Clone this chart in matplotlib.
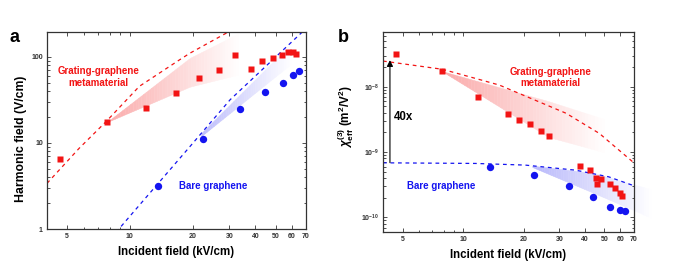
import numpy as np
import matplotlib
matplotlib.use("Agg")
import matplotlib.pyplot as plt
from matplotlib.ticker import FixedLocator, NullFormatter, LogLocator

plt.rcParams['font.family'] = ['Liberation Sans', 'DejaVu Sans']
plt.rcParams['font.weight'] = 'bold'
plt.rcParams['mathtext.fontset'] = 'custom'
plt.rcParams['mathtext.rm'] = 'Liberation Sans:bold'
plt.rcParams['mathtext.it'] = 'Liberation Sans:italic'
plt.rcParams['mathtext.bf'] = 'Liberation Sans:bold'

# ---- panel a : harmonic field
a_meta_x = [4.6, 7.74, 11.9, 16.6, 21.5, 26.7, 32.1, 38.1, 42.9, 48.6, 53.6, 57.5, 60.4, 62.4]
a_meta_y = [6.56, 17.4, 25.4, 37.7, 56.9, 69.9, 105, 72.4, 89, 97.3, 106, 113, 113, 109]
a_bare_x = [13.6, 22.5, 33.6, 44.7, 54.0, 60.8, 64.6]
a_bare_y = [3.15, 11.0, 24.5, 39.4, 49.3, 61.1, 68.6]
a_meta_fit_x = [4.0, 5.71, 7.69, 11.1, 17.4, 19.4, 29.2, 31.0]
a_meta_fit_y = [3.39, 8.67, 17.7, 45.4, 93, 110, 190, 206]
a_bare_fit_x = [8.6, 8.85, 11.1, 19.4, 30.3, 67.5, 70.0]
a_bare_fit_y = [0.92, 1.0, 1.89, 9.05, 31.8, 196, 210]

# ---- panel b : effective chi(3)
b_meta_x = [4.66, 7.81, 11.9, 16.6, 19.0, 21.4, 24.3, 26.5, 37.9, 42.5, 45.5, 45.8,
            48.2, 53.2, 56.8, 59.9, 61.4]
b_meta_y = [3.13e-8, 1.74e-8, 7.03e-9, 3.82e-9, 3.09e-9, 2.68e-9, 2.07e-9, 1.76e-9,
            6.18e-10, 5.3e-10, 4.05e-10, 3.2e-10, 3.9e-10, 3.27e-10, 2.78e-10, 2.39e-10, 2.15e-10]
b_bare_x = [13.5, 22.5, 33.4, 44.1, 53.3, 59.8, 63.6]
b_bare_y = [5.82e-10, 4.45e-10, 3.02e-10, 2.09e-10, 1.47e-10, 1.31e-10, 1.24e-10]
b_meta_fit_x = [4.0, 7.87, 11.5, 15.1, 32.4, 47.3, 69.5, 71.0]
b_meta_fit_y = [2.47e-8, 1.85e-8, 1.34e-8, 1.06e-8, 3.92e-9, 1.93e-9, 7.03e-10, 6.8e-10]
b_bare_fit_x = [4.0, 11.5, 20.3, 36.0, 52.6, 68.7, 70.0]
b_bare_fit_y = [6.86e-10, 6.71e-10, 6.33e-10, 5.3e-10, 4.19e-10, 3.13e-10, 3.08e-10]

xticks = [5, 10, 20, 30, 40, 50, 60, 70]
RED = '#f21414'
BLUE = '#1414f0'


def fan(ax, xs, lo, hi, color, a0, n=50, clip=True):
    # gradient shading between lo/hi edges, fading to white along x
    lx = np.log10(xs)
    xg = np.logspace(lx[0], lx[-1], n + 1)
    lo_g = 10 ** np.interp(np.log10(xg), lx, np.log10(lo))
    hi_g = 10 ** np.interp(np.log10(xg), lx, np.log10(hi))
    base = np.array(matplotlib.colors.to_rgb(color))
    for i in range(n):
        t = a0 * (1 - i / n)
        c = (1 - t) * np.ones(3) + t * base
        ax.fill_between(xg[i:i + 2], lo_g[i:i + 2], hi_g[i:i + 2], facecolor=c,
                        edgecolor=c, lw=0.3, zorder=1, clip_on=clip)


def style(ax):
    ax.set_xscale('log')
    ax.set_yscale('log')
    ax.set_xlim(4, 70)
    ax.xaxis.set_major_locator(FixedLocator(xticks))
    ax.xaxis.set_minor_locator(FixedLocator([6, 7, 8, 9]))
    ax.xaxis.set_minor_formatter(NullFormatter())
    ax.set_xticklabels([str(t) for t in xticks])
    ax.tick_params(which='both', direction='in', top=True, right=True,
                   colors='#333333', labelsize=5, width=0.6, pad=3)
    ax.tick_params(which='major', length=3)
    ax.tick_params(which='minor', length=1.8)
    for s in ax.spines.values():
        s.set_linewidth(0.9)
        s.set_color('#333333')
    ax.set_xlabel('Incident field (kV/cm)', fontsize=8.3, fontweight='bold', labelpad=4)


fig = plt.figure(figsize=(6.76, 2.67), dpi=100)

# ---------------- panel a
ax1 = fig.add_axes([47 / 676, 1 - 229 / 267, 259 / 676, 197 / 267])
style(ax1)
ax1.set_ylim(1, 194)
ax1.yaxis.set_major_locator(FixedLocator([1, 10, 100]))
ax1.yaxis.set_minor_locator(LogLocator(base=10, subs=np.arange(2, 10)))
ax1.yaxis.set_minor_formatter(NullFormatter())
ax1.set_yticklabels(['1', '10', '100'])
ax1.set_ylabel('Harmonic field (V/cm)', fontsize=8.8, fontweight='bold')
ax1.yaxis.set_label_coords(-0.078, 0.46)

fan(ax1, [7.74, 19.4, 33], [17.4, 45, 62], [17.4, 97, 185], RED, 0.36)
fan(ax1, [22, 59], [12, 82], [13, 140], BLUE, 0.28)
ax1.plot(a_meta_fit_x, a_meta_fit_y, color=RED, lw=0.9, dashes=(3, 3), zorder=2)
ax1.plot(a_bare_fit_x, a_bare_fit_y, color=BLUE, lw=0.9, dashes=(3, 3), zorder=2)
ax1.plot(a_meta_x, a_meta_y, 's', color=RED, ms=4.6, mec='none', zorder=3)
ax1.plot(a_bare_x, a_bare_y, 'o', color=BLUE, ms=5.3, mec='none', zorder=3)
ax1.text(7.08, 58, 'Grating-graphene\nmetamaterial', color=RED, fontsize=7,
         fontweight='bold', ha='center', va='center', linespacing=1.2)
ax1.text(25.2, 3.18, 'Bare graphene', color=BLUE, fontsize=7, fontweight='bold',
         ha='center', va='center')
fig.text(15 / 676, 1 - 38 / 267, 'a', fontsize=13, fontweight='bold', ha='center', va='center')

# ---------------- panel b
ax2 = fig.add_axes([383 / 676, 1 - 232 / 267, 250.7 / 676, 199.7 / 267])
style(ax2)
ax2.set_ylim(6e-11, 6.8e-8)
ax2.yaxis.set_major_locator(FixedLocator([1e-10, 1e-9, 1e-8]))
ax2.yaxis.set_minor_locator(LogLocator(base=10, subs=np.arange(2, 10)))
ax2.yaxis.set_minor_formatter(NullFormatter())
ax2.set_yticklabels([r'$\mathbf{10^{-10}}$', r'$\mathbf{10^{-9}}$', r'$\mathbf{10^{-8}}$'])
ax2.set_ylabel(r'$\chi^{(3)}_{\mathrm{eff}}$ (m$^{2}$/V$^{2}$)', fontsize=8.5, fontweight='bold')
ax2.yaxis.set_label_coords(-0.108, 0.58)

fan(ax2, [7.81, 26.5, 50], [1.74e-8, 1.7e-9, 1.0e-9], [1.74e-8, 6.0e-9, 3.2e-9], RED, 0.36)
fan(ax2, [22, 44, 85], [5.9e-10, 2.4e-10, 1.0e-10], [6.2e-10, 4.8e-10, 2.7e-10], BLUE, 0.3,
    clip=False)
ax2.plot(b_meta_fit_x, b_meta_fit_y, color=RED, lw=0.9, dashes=(3, 3), zorder=2)
ax2.plot(b_bare_fit_x, b_bare_fit_y, color=BLUE, lw=0.9, dashes=(3, 3), zorder=2)
ax2.plot(b_meta_x, b_meta_y, 's', color=RED, ms=4.6, mec='none', zorder=3)
ax2.plot(b_bare_x, b_bare_y, 'o', color=BLUE, ms=5.3, mec='none', zorder=3)
ax2.annotate('', xy=(4.33, 2.55e-8), xytext=(4.33, 6.9e-10),
             arrowprops=dict(arrowstyle='-|>', color='black', lw=0.8,
                             mutation_scale=9, shrinkA=0, shrinkB=0), zorder=4)
ax2.text(5.08, 3.5e-9, '40x', fontsize=8.3, fontweight='bold', ha='center', va='center')
ax2.text(27.1, 1.39e-8, 'Grating-graphene\nmetamaterial', color=RED, fontsize=7,
         fontweight='bold', ha='center', va='center', linespacing=1.2)
ax2.text(7.73, 3.05e-10, 'Bare graphene', color=BLUE, fontsize=7, fontweight='bold',
         ha='center', va='center')
fig.text(343 / 676, 1 - 38 / 267, 'b', fontsize=13, fontweight='bold', ha='center', va='center')

fig.savefig('out.png', dpi=100)
